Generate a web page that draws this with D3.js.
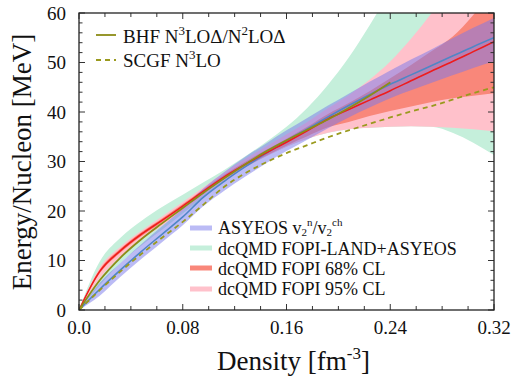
<!DOCTYPE html>
<html><head><meta charset="utf-8">
<script src="https://cdn.jsdelivr.net/npm/d3@7/dist/d3.min.js"></script>
<style>
body{margin:0;background:#fff;}
</style></head>
<body><svg id="c" width="513" height="377"></svg>
<script>
// ---- data ----
const density = [0,0.016,0.032,0.048,0.064,0.08,0.096,0.112,0.128,0.144,0.16,0.176,0.192,0.208,0.224,0.24,0.256,0.272,0.288,0.304,0.32];
const combLow  = [0,5.0,9.5,13.0,16.2,19.5,22.8,26.2,28.8,31.0,33.0,34.6,35.8,36.5,36.8,37.0,37.1,37.0,35.8,33.8,31.3];
const combHigh = [0,9.8,14.6,18.0,20.8,23.3,25.8,28.3,31.0,33.9,37.0,40.8,45.5,51.0,57.5,64.5,72,80,88,96,104];
const cl95Low  = [0,6.4,10.8,14.2,17.0,20.0,23.2,26.2,28.8,31.0,33.0,34.6,35.8,36.5,36.8,37.0,37.1,37.0,36.8,36.5,36.1];
const cl95High = [0,8.6,12.8,16.0,18.9,21.8,24.8,27.8,30.5,33.0,35.5,38.0,40.8,43.4,46.5,50.2,54.8,60.0,65.5,71,77];
const cl68Low  = [0,7.4,11.6,14.9,17.7,20.6,23.6,26.5,28.9,31.1,33.2,35.1,36.9,38.0,39.2,40.2,41.1,42.0,42.8,43.3,43.8];
const cl68High = [0,8.2,12.4,15.7,18.5,21.4,24.4,27.3,29.9,32.3,34.6,37.0,39.6,41.8,44.2,46.8,49.5,52.3,55.2,59.6,65];
const dcqmdCentral = [0,7.8,12.0,15.3,18.1,21.0,24.0,26.9,29.4,31.7,33.9,36.2,38.6,40.5,42.4,44.3,46.3,48.3,50.2,52.2,54.2];
const asyLow   = [0,2.9,6.7,10.3,13.7,17.1,21.0,24.1,26.9,29.6,32.1,34.4,36.7,38.9,40.9,42.8,44.4,45.9,47.4,48.9,50.2];
const asyHigh  = [0,5.5,9.5,13.3,16.9,20.5,24.6,27.9,30.9,33.6,36.3,38.8,41.3,43.7,46.1,48.4,50.6,52.7,54.9,57.0,59.0];
const asyCentral = [0,4.2,8.1,11.8,15.3,18.8,22.8,26.0,28.9,31.6,34.2,36.6,39.0,41.3,43.5,45.6,47.5,49.4,51.3,53.2,55.0];
const scgf     = [0,4.0,7.8,11.3,14.6,17.8,21.3,24.9,27.6,29.8,31.7,33.3,34.9,36.3,37.6,38.9,40.1,41.2,42.5,43.8,45.0];
const bhfDensity = [0,0.016,0.032,0.048,0.064,0.08,0.096,0.112,0.128,0.144,0.16,0.176,0.192,0.208,0.224,0.24];
const bhf      = [0,6.0,10.6,14.3,17.5,20.6,23.7,26.6,29.4,32.0,34.3,36.4,38.5,40.8,43.3,46.0];
const xTickLabels = ["0.0","0.08","0.16","0.24","0.32"];
const xTickValues = [0,0.08,0.16,0.24,0.32];
const yTickValues = [0,10,20,30,40,50,60];

// ---- layout ----
const svg = d3.select("#c");
const L=79,R=494,T=13,B=310;
const x = d3.scaleLinear().domain([0,0.32]).range([L,R]);
const y = d3.scaleLinear().domain([0,60]).range([B,T]);

svg.append("defs").append("clipPath").attr("id","clip")
  .append("rect").attr("x",L).attr("y",T).attr("width",R-L).attr("height",B-T);
const g = svg.append("g").attr("clip-path","url(#clip)");

const band = (lo,hi)=>d3.area().x((d,i)=>x(density[i])).y0((d,i)=>y(lo[i])).y1((d,i)=>y(hi[i])).curve(d3.curveMonotoneX)(density);
const line = (xs,ys)=>d3.line().x((d,i)=>x(xs[i])).y((d,i)=>y(ys[i])).curve(d3.curveMonotoneX)(xs);

const cGreen="#c5efdb", cPink="#ffc1cb", cSalmon="#f9877a", cBlueBand="rgba(120,120,235,0.5)";
g.append("path").attr("d",band(combLow,combHigh)).attr("fill",cGreen);
g.append("path").attr("d",band(cl95Low,cl95High)).attr("fill",cPink);
g.append("path").attr("d",band(cl68Low,cl68High)).attr("fill",cSalmon);
g.append("path").attr("d",band(asyLow,asyHigh)).attr("fill",cBlueBand);

g.append("path").attr("d",line(density,asyCentral)).attr("fill","none").attr("stroke","#4f86c6").attr("stroke-width",1.6);
g.append("path").attr("d",line(density,dcqmdCentral)).attr("fill","none").attr("stroke","#ee1c1c").attr("stroke-width",1.6);
g.append("path").attr("d",line(bhfDensity,bhf)).attr("fill","none").attr("stroke","#8c8c16").attr("stroke-width",1.8);
g.append("path").attr("d",line(density,scgf)).attr("fill","none").attr("stroke","#9a9a1e").attr("stroke-width",1.8).attr("stroke-dasharray","5,4");

// ---- frame & ticks ----
const ax = svg.append("g").attr("stroke","#333").attr("stroke-width",1);
d3.range(0,0.3201,0.02).forEach(v=>{
  const major = xTickValues.some(t=>Math.abs(t-v)<1e-6);
  const len = major?6:4;
  ax.append("line").attr("x1",x(v)).attr("x2",x(v)).attr("y1",B).attr("y2",B-len);
  ax.append("line").attr("x1",x(v)).attr("x2",x(v)).attr("y1",T).attr("y2",T+len);
});
d3.range(0,60.01,2).forEach(v=>{
  const major = v%10===0;
  const len = major?6:3.5;
  ax.append("line").attr("y1",y(v)).attr("y2",y(v)).attr("x1",L).attr("x2",L+len);
  ax.append("line").attr("y1",y(v)).attr("y2",y(v)).attr("x1",R).attr("x2",R-len);
});
svg.append("rect").attr("x",L).attr("y",T).attr("width",R-L).attr("height",B-T)
  .attr("fill","none").attr("stroke","#222").attr("stroke-width",1.3);

const FONT = "'Liberation Serif', 'DejaVu Serif', serif";
const txt = (sel)=>sel.append("text").attr("font-family",FONT).attr("fill","#111");

xTickValues.forEach((v,i)=>{
  txt(svg).attr("x",x(v)).attr("y",334).attr("text-anchor","middle")
    .attr("font-size",19).text(xTickLabels[i]);
});
yTickValues.forEach(v=>{
  txt(svg).attr("x",66).attr("y",y(v)+6.5).attr("text-anchor","end")
    .attr("font-size",19).text(v);
});

// axis titles
const xt = txt(svg).attr("x",217).attr("y",370).attr("font-size",27);
xt.append("tspan").text("Density [fm");
xt.append("tspan").attr("dy",-11).attr("font-size",17).text("-3");
xt.append("tspan").attr("dy",11).text("]");
txt(svg).attr("transform","translate(31,162) rotate(-90)").attr("text-anchor","middle")
  .attr("font-size",27).text("Energy/Nucleon [MeV]");

// top legend
const tl = svg.append("g");
tl.append("line").attr("x1",96).attr("x2",116).attr("y1",35).attr("y2",35).attr("stroke","#8c8c16").attr("stroke-width",1.8);
tl.append("line").attr("x1",96).attr("x2",116).attr("y1",60).attr("y2",60).attr("stroke","#9a9a1e").attr("stroke-width",1.8).attr("stroke-dasharray","5,4");
const t1 = txt(tl).attr("x",123).attr("y",43).attr("font-size",19);
t1.append("tspan").text("BHF N");
t1.append("tspan").attr("dy",-8).attr("font-size",13).text("3");
t1.append("tspan").attr("dy",8).text("LOΔ/N");
t1.append("tspan").attr("dy",-8).attr("font-size",13).text("2");
t1.append("tspan").attr("dy",8).text("LOΔ");
const t2 = txt(tl).attr("x",123).attr("y",67).attr("font-size",19);
t2.append("tspan").text("SCGF N");
t2.append("tspan").attr("dy",-8).attr("font-size",13).text("3");
t2.append("tspan").attr("dy",8).text("LO");

// bottom legend
const legItems = [
  {c:"rgba(120,120,235,0.5)", y:228},
  {c:cGreen, y:248},
  {c:cSalmon, y:268},
  {c:cPink, y:289}
];
const bl = svg.append("g");
legItems.forEach(d=>{
  bl.append("line").attr("x1",190).attr("x2",212).attr("y1",d.y).attr("y2",d.y).attr("stroke",d.c).attr("stroke-width",5);
});
const b1 = txt(bl).attr("x",218).attr("y",234).attr("font-size",18);
b1.append("tspan").text("ASYEOS v");
b1.append("tspan").attr("dy",2).attr("font-size",11).text("2");
b1.append("tspan").attr("dy",-10).attr("font-size",11).text("n");
b1.append("tspan").attr("dy",8).text("/v");
b1.append("tspan").attr("dy",2).attr("font-size",11).text("2");
b1.append("tspan").attr("dy",-10).attr("font-size",11).text("ch");
txt(bl).attr("x",218).attr("y",255).attr("font-size",18).text("dcQMD FOPI-LAND+ASYEOS");
txt(bl).attr("x",218).attr("y",275).attr("font-size",18).text("dcQMD FOPI 68% CL");
txt(bl).attr("x",218).attr("y",295).attr("font-size",18).text("dcQMD FOPI 95% CL");
</script></body></html>
